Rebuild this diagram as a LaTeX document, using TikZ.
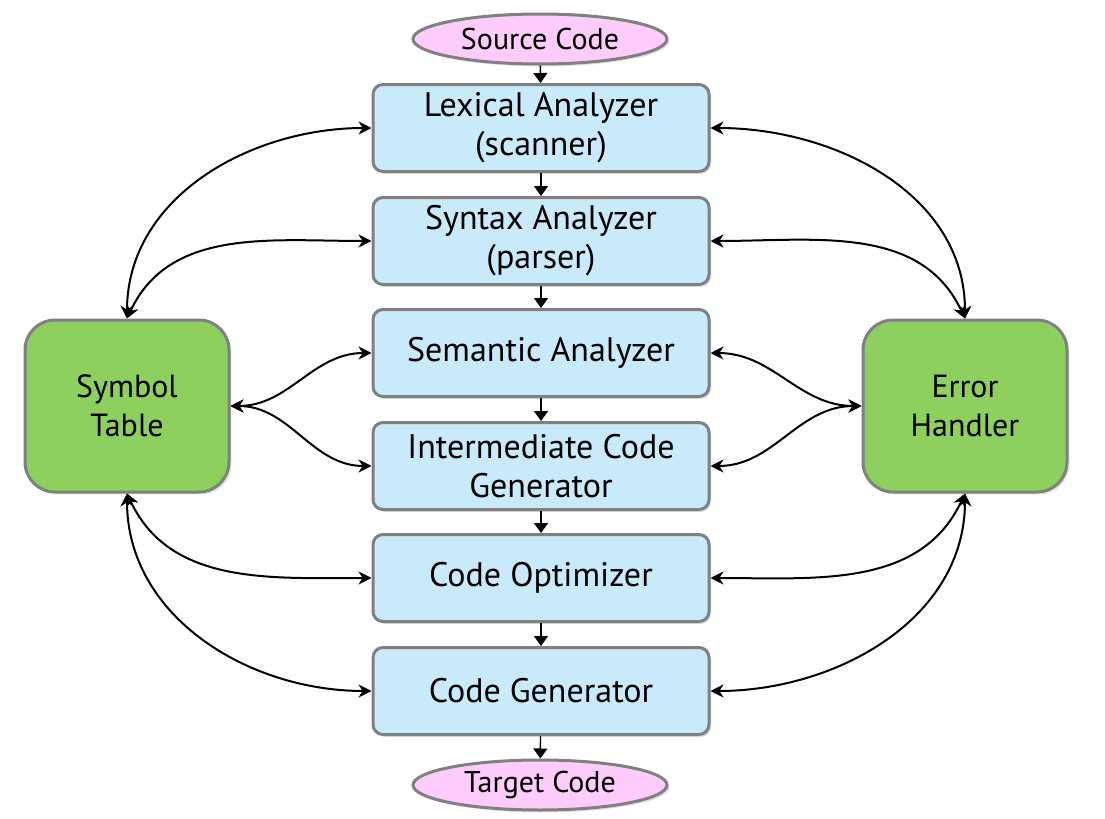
\documentclass[tikz,border=0pt]{standalone}
\usepackage{fontspec}
\setmainfont{PT Sans}
\usetikzlibrary{positioning,shapes.geometric,shadows,arrows.meta}

\definecolor{phaseblue}{HTML}{C8EAFB}
\definecolor{tablegreen}{HTML}{8ED05E}
\definecolor{codepink}{HTML}{FDCCFB}
\definecolor{edgegray}{HTML}{808080}

\begin{document}
\begin{tikzpicture}[
      x=0.5pt, y=-0.5pt,
      phase/.style={rectangle, rounded corners=5pt, draw=edgegray, line width=1.5pt,
          fill=phaseblue, minimum width=168pt, minimum height=43.5pt, align=center,
          font=\fontsize{17}{19.5}\selectfont,
          drop shadow={opacity=0.25, shadow xshift=1.2pt, shadow yshift=-1.2pt}},
      helper/.style={phase, rounded corners=15pt, fill=tablegreen,
          minimum width=102pt, minimum height=86pt, font=\fontsize{16}{19.5}\selectfont},
      terminal/.style={ellipse, draw=edgegray, line width=1.5pt, fill=codepink,
          minimum width=127pt, minimum height=25pt, inner sep=0pt,
          font=\fontsize{15}{17}\selectfont,
          drop shadow={opacity=0.25, shadow xshift=1.2pt, shadow yshift=-1.2pt}},
      flow/.style={-{Triangle[width=7pt,length=5pt]}, line width=0.7pt},
      link/.style={{Stealth[width=6.5pt,length=6.5pt]}-{Stealth[width=6.5pt,length=6.5pt]}, line width=1pt}
    ]
      \useasboundingbox (0,0) rectangle (1105,819);

      % the phases
      \node[terminal] (src) at (540,39) {Source Code};
      \node[phase] (lex) at (541,128) {Lexical Analyzer\\(scanner)};
      \node[phase] (syn) at (541,241) {Syntax Analyzer\\(parser)};
      \node[phase] (sem) at (541,353) {Semantic Analyzer};
      \node[phase] (icg) at (541,466) {Intermediate Code\\Generator};
      \node[phase] (opt) at (541,578) {Code Optimizer};
      \node[phase] (gen) at (541,691) {Code Generator};
      \node[terminal] (tgt) at (540,785) {Target Code};

      \node[helper] (sym) at (127,406) {Symbol\\Table};
      \node[helper] (err) at (965,406) {Error\\Handler};

      \foreach \a/\b in {src/lex, lex/syn, syn/sem, sem/icg, icg/opt, opt/gen, gen/tgt}
        \draw[flow] (\a) -- (\b);

      % symbol table links
      \draw[link] (sym.north) to[out=90, in=180] (lex.west);
      \draw[link] (sym.north) to[out=65, in=180] (syn.west);
      \draw[link] (sym.east) to[out=0, in=180] (sem.west);
      \draw[link] (sym.east) to[out=0, in=180] (icg.west);
      \draw[link] (sym.south) to[out=-65, in=180] (opt.west);
      \draw[link] (sym.south) to[out=-90, in=180] (gen.west);

      % error handler links
      \draw[link] (err.north) to[out=90, in=0] (lex.east);
      \draw[link] (err.north) to[out=115, in=0] (syn.east);
      \draw[link] (err.west) to[out=180, in=0] (sem.east);
      \draw[link] (err.west) to[out=180, in=0] (icg.east);
      \draw[link] (err.south) to[out=-115, in=0] (opt.east);
      \draw[link] (err.south) to[out=-90, in=0] (gen.east);

\end{tikzpicture}
\end{document}
